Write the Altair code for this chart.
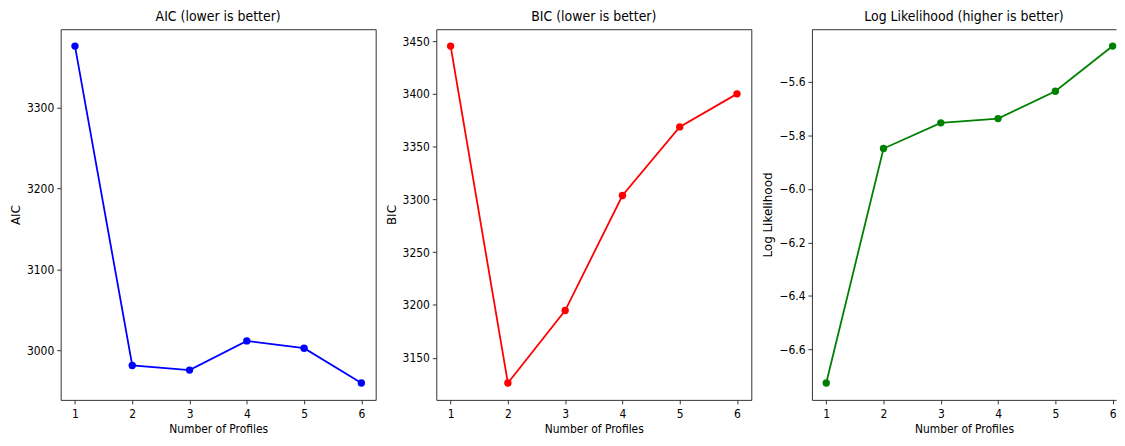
import altair as alt
import pandas as pd

profiles = [1, 2, 3, 4, 5, 6]
aic = [3376.0, 2981.7, 2976.0, 3012.0, 3003.0, 2960.0]
bic = [3445.3, 3126.0, 3194.7, 3303.7, 3368.7, 3400.0]
loglik = [-6.7255, -5.849, -5.753, -5.737, -5.635, -5.466]

aic_ticks = [3000, 3100, 3200, 3300]
bic_ticks = [3150, 3200, 3250, 3300, 3350, 3400, 3450]
ll_ticks = [-6.6, -6.4, -6.2, -6.0, -5.8, -5.6]

HFONT = "DejaVu Sans Condensed, Liberation Sans Narrow, DejaVu Sans"
VFONT = "DejaVu Sans"
FRAME = "#333333"
W, H = 317, 373
W_LAST = 306  # last panel is cut off by the picture's right edge


def padded(vals, frac=0.05):
    lo, hi = min(vals), max(vals)
    r = hi - lo
    return [lo - frac * r, hi + frac * r]


def panel(values, color, title, ytitle, yticks, fmt, cut=False):
    df = pd.DataFrame({"profiles": profiles, "value": values})
    xdom = padded(profiles)
    width = W
    if cut:
        xdom = [xdom[0], xdom[0] + (xdom[1] - xdom[0]) * W_LAST / W]
        width = W_LAST
    xscale = alt.Scale(domain=xdom, nice=False, zero=False)
    yenc = alt.Y(
        "value:Q",
        scale=alt.Scale(domain=padded(values), nice=False, zero=False),
        axis=alt.Axis(values=yticks, title=ytitle, format=fmt,
                      domain=cut, domainColor=FRAME, domainWidth=1),
    )
    xenc = alt.X(
        "profiles:Q", scale=xscale,
        axis=alt.Axis(values=profiles, title="Number of Profiles", format="d",
                      domain=cut, domainColor=FRAME, domainWidth=1),
    )
    line = alt.Chart(df).mark_line(color=color, strokeWidth=1.8, clip=True).encode(x=xenc, y=yenc)
    if cut:
        xtop = alt.X(
            "profiles:Q", scale=xscale,
            axis=alt.Axis(orient="top", labels=False, ticks=False, title=None,
                          domain=True, domainColor=FRAME, domainWidth=1),
        )
        pts = alt.Chart(df).mark_point(filled=True, color=color, size=55, opacity=1).encode(x=xtop, y=yenc)
        layered = alt.layer(line, pts).resolve_axis(x="independent").properties(
            view=alt.ViewBackground(stroke="transparent"))
    else:
        pts = alt.Chart(df).mark_point(filled=True, color=color, size=55, opacity=1).encode(x=xenc, y=yenc)
        layered = alt.layer(line, pts)
    return layered.properties(
        width=width, height=H,
        title=alt.TitleParams(title, fontSize=14, font=HFONT, fontWeight="normal",
                              color="black", offset=5, anchor="middle"),
    )


p1 = panel(aic, "#0000ff", "AIC (lower is better)", "AIC", aic_ticks, "d")
p2 = panel(bic, "#ff0000", "BIC (lower is better)", "BIC", bic_ticks, "d")
p3 = panel(loglik, "#008000", "Log Likelihood (higher is better)", "Log Likelihood", ll_ticks, ".1f", cut=True)

chart = (
    alt.hconcat(p1, p2, p3, spacing=61, bounds="flush")
    .properties(padding={"left": 1, "top": 0, "right": 0, "bottom": 0})
    .configure_view(stroke=FRAME, strokeWidth=1)
    .configure_axis(
        grid=False,
        ticks=True,
        tickColor=FRAME,
        tickSize=4,
        labelColor="black",
        labelFont=HFONT,
        labelFontSize=12,
        titleColor="black",
        titleFontWeight="normal",
        titleFontSize=12,
    )
    .configure_axisX(titleFont=HFONT, titlePadding=4, labelPadding=5)
    .configure_axisY(titleFont=VFONT, titlePadding=4, labelPadding=3)
)

chart.save("out.html", embed_options={"renderer": "svg", "actions": False})
